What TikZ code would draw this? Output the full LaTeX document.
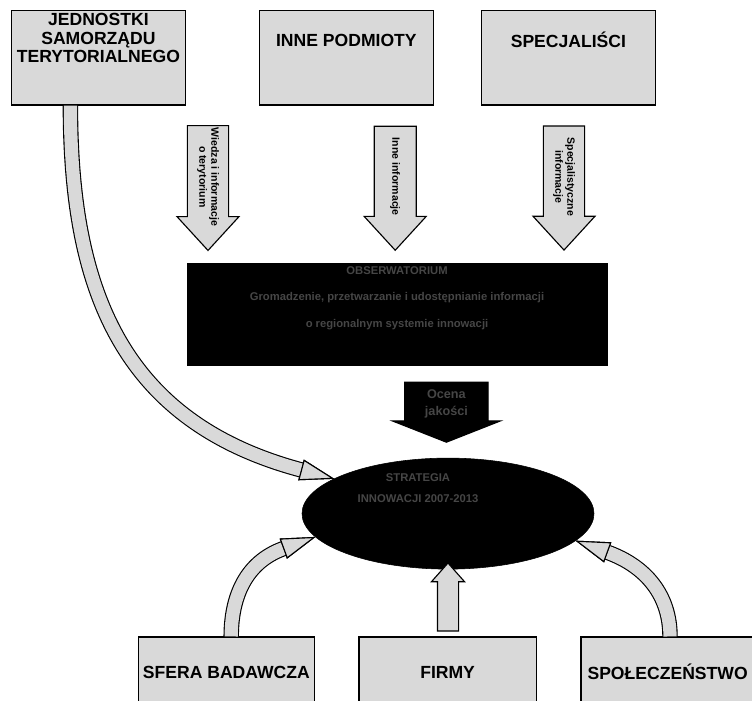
\documentclass[tikz,border=0pt]{standalone}
\usepackage{fontspec}
\setmainfont{Liberation Sans}
\usetikzlibrary{shapes.arrows,shapes.geometric,positioning}

\begin{document}
\begin{tikzpicture}[
        box/.style={draw, thick, rectangle, fill=gray!30, minimum width=4.35cm, minimum height=2.37cm},
        boxtext/.style={align=center, font=\bfseries\fontsize{12.5}{13}\selectfont},
        downarrow/.style={draw, thick, single arrow, fill=gray!30, rotate=-90, minimum height=3.1cm, minimum width=1.55cm,
            single arrow head extend=0.25cm, single arrow tip angle=85, inner xsep=1pt, align=center,
            font=\bfseries\fontsize{7.5}{8.5}\selectfont},
        band/.style={draw=black, thick, double=gray!30, double distance=0.33cm},
        tiphead/.style={draw, thick, isosceles triangle, isosceles triangle stretches, fill=gray!30,
            minimum width=0.5cm, minimum height=0.8cm, inner sep=0pt, anchor=apex},
        darktext/.style={text=gray!55!black, font=\bfseries\fontsize{8}{19}\selectfont, align=center}
    ]
        \useasboundingbox (0,0) rectangle (18.8,-17.5);

        % top row
        \node[box] (jst) at (2.46,-1.44) {};
        \node[boxtext] (jsttxt) at (2.46,-0.95) {JEDNOSTKI\\SAMORZĄDU\\TERYTORIALNEGO};
        \node[box] (inne) at (8.66,-1.44) {};
        \node[boxtext] (innetxt) at (8.66,-1.0) {INNE PODMIOTY};
        \node[box] (spec) at (14.21,-1.44) {};
        \node[boxtext] (spectxt) at (14.21,-1.0) {SPECJALIŚCI};

        % information flows
        \node[downarrow, inner ysep=6pt] (wiedza) at (5.2,-4.42) {Wiedza i informacje\\o terytorium};
        \node[downarrow, inner ysep=11pt] (info) at (9.88,-4.42) {Inne informacje};
        \node[downarrow, inner ysep=6pt] (specinfo) at (14.1,-4.42) {Specjalistyczne\\informacje};

        % centre
        \node[draw, fill=black, minimum width=10.5cm, minimum height=2.55cm] (obs) at (9.925,-7.85) {};
        \node[darktext] (obstxt) at (9.925,-7.45)
            {OBSERWATORIUM\\Gromadzenie, przetwarzanie i udostępnianie informacji\\o regionalnym systemie innowacji};
        \node[draw, thick, fill=black, single arrow, rotate=-90, minimum height=1.5cm, minimum width=2.7cm,
            single arrow head extend=0.3cm, single arrow tip angle=137, inner xsep=1pt, inner ysep=13pt,
            text=gray!55!black, font=\bfseries\fontsize{9}{12}\selectfont] (ocena) at (11.16,-10.1)
            {\rotatebox{90}{\begin{tabular}{@{}c@{}}Ocena\\jakości\end{tabular}}};
        \node[draw, ellipse, fill=black, minimum width=7.3cm, minimum height=2.775cm] (ris) at (11.2,-12.84) {};
        \node[darktext, font=\bfseries\fontsize{8}{15}\selectfont] (ristxt) at (10.45,-12.2)
            {STRATEGIA\\INNOWACJI 2007-2013};

        % bottom row
        \node[box, minimum height=1.75cm, minimum width=4.33cm, boxtext] (sfera) at (5.66,-16.8) {SFERA BADAWCZA};
        \node[box, minimum height=1.75cm, minimum width=4.43cm, boxtext] (firmy) at (11.19,-16.8) {FIRMY};
        \node[box, minimum height=1.75cm, minimum width=4.33cm, boxtext] (spol) at (16.69,-16.8) {SPOŁECZEŃSTWO};

        \node[draw, thick, single arrow, fill=gray!30, rotate=90, minimum height=1.7cm, minimum width=0.8cm,
            single arrow head extend=0.15cm, single arrow tip angle=83, inner xsep=0pt, inner ysep=0.25cm] (up) at (11.2,-15.075) {};

        % curved feedback
        \node[tiphead, rotate=-15] (h1) at (ris.163) {};
        \node[tiphead, rotate=20] (h2) at (ris.190) {};
        \node[tiphead, rotate=160] (h3) at (ris.-12) {};
        \draw[band] ([xshift=-0.7cm]jst.south) to[out=-90, in=165, looseness=1.1] (h1.lower side);
        \draw[band] ([xshift=0.12cm]sfera.north) to[out=90, in=200] (h2.lower side);
        \draw[band] ([xshift=0.06cm]spol.north) to[out=90, in=-20] (h3.lower side);
        \node[tiphead, rotate=-15] at (ris.163) {};
        \node[tiphead, rotate=20] at (ris.190) {};
        \node[tiphead, rotate=160] at (ris.-12) {};
    \end{tikzpicture}
\end{document}
